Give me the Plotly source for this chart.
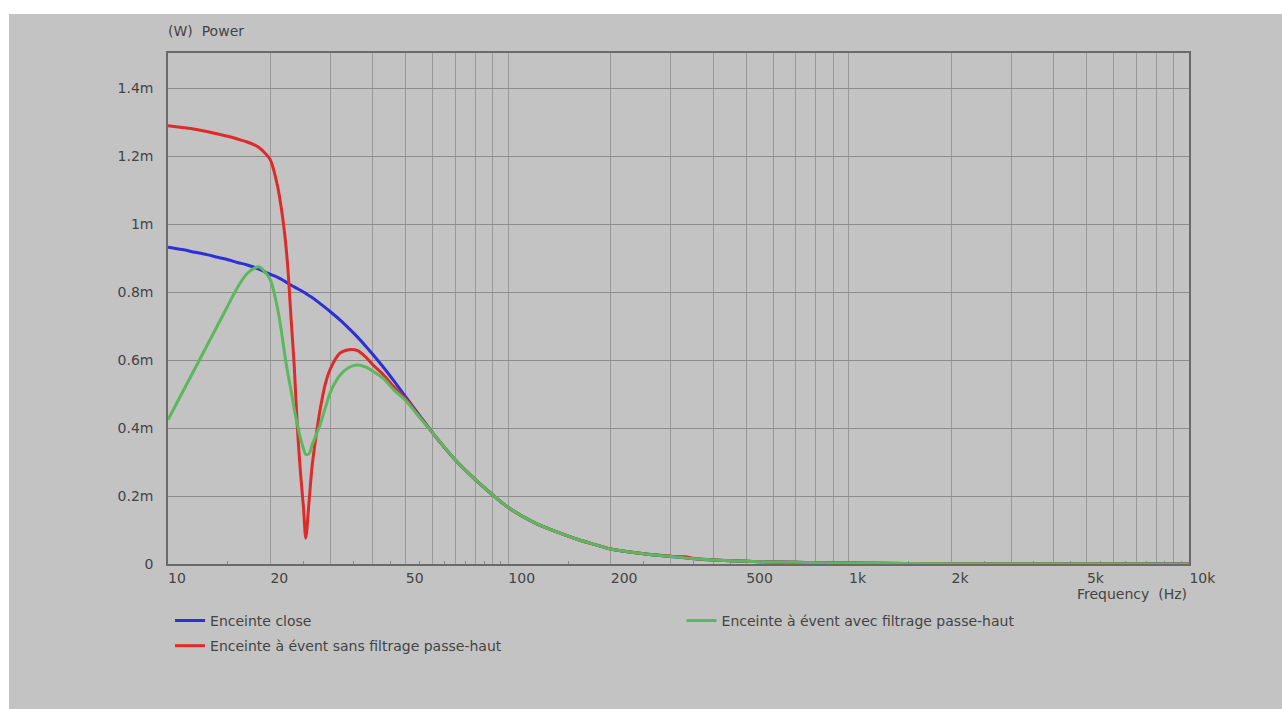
import plotly.graph_objects as go

# ---- data (power in mW) ----
freq = [10, 11, 12, 13, 14, 15, 16, 17, 18, 18.5,
        19, 20, 21, 21.5, 22, 22.5, 23, 23.5, 24, 24.5,
        25, 25.4, 26, 26.5, 27, 28, 29, 30, 32, 34,
        36, 38, 40, 43, 46, 50, 55, 60, 70, 80,
        90, 100, 120, 140, 160, 180, 200, 250, 300, 330,
        360, 400, 500, 600, 800, 1000, 2000, 5000, 10000]

closed_box = [0.932, 0.925, 0.917, 0.910, 0.902, 0.895, 0.887, 0.880, 0.872, 0.867,
              0.862, 0.852, 0.843, 0.838, 0.832, 0.826, 0.820, 0.815, 0.810, 0.805,
              0.800, 0.796, 0.789, 0.784, 0.778, 0.766, 0.754, 0.742, 0.718, 0.693,
              0.668, 0.642, 0.616, 0.578, 0.540, 0.491, 0.435, 0.385, 0.305, 0.248,
              0.203, 0.166, 0.120, 0.093, 0.072, 0.057, 0.044, 0.030, 0.022, 0.018,
              0.015, 0.012, 0.008, 0.006, 0.004, 0.003, 0.001, 0.0004, 0.0002]

vented_no_hp = [1.289, 1.284, 1.279, 1.272, 1.265, 1.258, 1.250, 1.242, 1.232, 1.225,
                1.215, 1.188, 1.110, 1.050, 0.975, 0.870, 0.720, 0.580, 0.400, 0.270,
                0.168, 0.076, 0.190, 0.286, 0.350, 0.455, 0.530, 0.574, 0.620, 0.630,
                0.628, 0.610, 0.586, 0.556, 0.522, 0.485, 0.433, 0.385, 0.305, 0.248,
                0.203, 0.166, 0.120, 0.093, 0.072, 0.057, 0.044, 0.030, 0.023, 0.021,
                0.015, 0.012, 0.008, 0.006, 0.004, 0.003, 0.001, 0.0004, 0.0002]

vented_hp = [0.424, 0.503, 0.575, 0.641, 0.703, 0.760, 0.813, 0.852, 0.871, 0.874,
             0.866, 0.835, 0.750, 0.690, 0.620, 0.560, 0.510, 0.455, 0.410, 0.370,
             0.340, 0.322, 0.325, 0.350, 0.370, 0.410, 0.460, 0.505, 0.555, 0.578,
             0.585, 0.580, 0.567, 0.545, 0.513, 0.480, 0.430, 0.385, 0.305, 0.248,
             0.203, 0.166, 0.120, 0.093, 0.072, 0.057, 0.044, 0.030, 0.022, 0.018,
             0.015, 0.012, 0.008, 0.006, 0.004, 0.003, 0.001, 0.0004, 0.0002]

series_names = ["Enceinte close",
                "Enceinte à évent sans filtrage passe-haut",
                "Enceinte à évent avec filtrage passe-haut"]

x_grid_vals = [10, 20, 30, 40, 50, 60, 70, 80, 90,
               100, 200, 300, 400, 500, 600, 700, 800, 900,
               1000, 2000, 3000, 4000, 5000, 6000, 7000, 8000, 9000, 10000]
x_labels = {10: "10", 20: "20", 50: "50", 100: "100", 200: "200", 500: "500",
            1000: "1k", 2000: "2k", 5000: "5k", 10000: "10k"}
x_minor_vals = [15, 25, 35, 45, 55, 65, 75, 85, 95,
                150, 250, 350, 450, 550, 650, 750, 850, 950,
                1500, 2500, 3500, 4500, 5500, 6500, 7500, 8500, 9500]
y_tick_vals = [0, 0.2, 0.4, 0.6, 0.8, 1.0, 1.2, 1.4]
y_tick_text = ["0", "0.2m", "0.4m", "0.6m", "0.8m", "1m", "1.2m", "1.4m"]
decade_lines = [100, 1000]

# ---- styling ----
BG = "#c3c3c3"
FONT = "DejaVu Sans"
TXT = "#444444"
FS = 14
colors = ["#2f2fd6", "#e02a2a", "#5cb85c"]

# left-align tick labels at tick: pad with non-breaking spaces of equal width
def pad(lbl):
    return "\u00a0" * (2 * len(lbl)) + lbl

x_tick_text = [pad(x_labels[v]) if v in x_labels else "" for v in x_grid_vals]

fig = go.Figure()
data = [closed_box, vented_no_hp, vented_hp]
legends = ["legend", "legend", "legend2"]
for i, (ys, nm, col, lg) in enumerate(zip(data, series_names, colors, legends)):
    fig.add_trace(go.Scatter(
        x=freq, y=ys, name=nm, mode="lines",
        line=dict(color=col, width=3, shape="spline", smoothing=0.8),
        legend=lg, legendgroup="g%d" % i, hoverinfo="skip"))

for d in decade_lines:
    fig.add_shape(type="line", xref="x", yref="paper", x0=d, x1=d, y0=0, y1=1,
                  line=dict(color="#7a7a7a", width=1.5), layer="below")

fig.update_layout(
    width=1282, height=709,
    margin=dict(l=168, r=93, t=53, b=145),
    paper_bgcolor="white",
    plot_bgcolor=BG,
    font=dict(family=FONT, size=FS, color=TXT),
    showlegend=True,
    legend=dict(x=0.002, xanchor="left", y=-0.080, yanchor="top",
                bgcolor="rgba(0,0,0,0)", font=dict(size=FS, color=TXT),
                tracegroupgap=4, itemwidth=30, traceorder="grouped"),
    legend2=dict(x=0.503, xanchor="left", y=-0.080, yanchor="top",
                 bgcolor="rgba(0,0,0,0)", font=dict(size=FS, color=TXT),
                 itemwidth=30),
    xaxis=dict(type="log", range=[1, 4], tickmode="array",
               tickvals=x_grid_vals, ticktext=x_tick_text,
               showgrid=True, gridcolor="#999999", gridwidth=1,
               ticks="", showline=True, linecolor="#6a6a6a", linewidth=1.5,
               mirror=True, zeroline=False,
               tickfont=dict(size=FS, color=TXT),
               minor=dict(tickmode="array", tickvals=x_minor_vals, ticks="inside",
                          ticklen=3, tickcolor="#8a8a8a", showgrid=False)),
    yaxis=dict(range=[0, 1.503], tickmode="array", tickvals=y_tick_vals,
               ticktext=y_tick_text, showgrid=True, gridcolor="#8c8c8c",
               gridwidth=1, ticks="", showline=True, linecolor="#6a6a6a",
               linewidth=1.5, mirror=True, zeroline=False,
               ticklabelstandoff=10, tickfont=dict(size=FS, color=TXT)),
    annotations=[
        dict(text="(W)\u00a0\u00a0Power", xref="paper", yref="paper", x=-0.002, y=1.043,
             xanchor="left", yanchor="middle", showarrow=False,
             font=dict(size=FS, color=TXT)),
        dict(text="Frequency\u00a0\u00a0(Hz)", xref="paper", yref="paper", x=1.0, y=-0.059,
             xanchor="right", yanchor="middle", showarrow=False,
             font=dict(size=FS, color=TXT)),
    ],
)

# gray panel behind everything
fig.add_shape(type="rect", xref="paper", yref="paper",
              x0=(9 - 168) / 1021, x1=(1282 - 168) / 1021,
              y0=(564 - 709) / 511, y1=(564 - 14) / 511,
              fillcolor=BG, line=dict(width=0), layer="below")

fig.write_html("out.html")
